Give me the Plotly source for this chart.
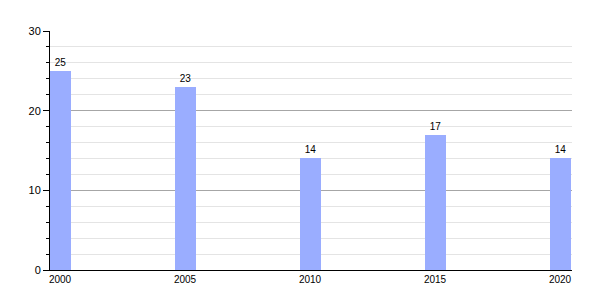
import plotly.graph_objects as go

years = [2000, 2005, 2010, 2015, 2020]
values = [25, 23, 14, 17, 14]
x_ticks = [2000, 2005, 2010, 2015, 2020]

fig = go.Figure(go.Bar(
    x=years, y=values, width=0.84,
    marker=dict(color="#9aadff", line=dict(width=0)),
    text=[str(v) for v in values], textposition="outside",
    textfont=dict(size=10, color="black", family="Liberation Sans, Arial"),
    cliponaxis=False,
))

fig.update_layout(
    width=600, height=300,
    margin=dict(l=50, r=28, t=31, b=30),
    plot_bgcolor="white", paper_bgcolor="white",
    font=dict(family="Liberation Sans, Arial", size=10, color="black"),
    showlegend=False,
    bargap=0,
)
fig.update_xaxes(
    range=[1999.6, 2020.48], tickmode="array", tickvals=x_ticks,
    ticktext=[str(t) for t in x_ticks],
    showline=True, linecolor="black", linewidth=1,
    showgrid=False, ticks="", zeroline=False,
    tickfont=dict(size=10, color="black"),
)
fig.update_yaxes(
    range=[0, 30], dtick=10, tick0=0,
    showline=True, linecolor="black", linewidth=1,
    ticks="outside", ticklen=6, tickcolor="black",
    showgrid=True, gridcolor="#a6a6a6", gridwidth=1,
    zeroline=False,
    tickfont=dict(size=11, color="black"),
    minor=dict(dtick=2, showgrid=True, gridcolor="#e4e4e4", ticks="outside",
               ticklen=3, tickcolor="black"),
)

fig.write_html("out.html")
